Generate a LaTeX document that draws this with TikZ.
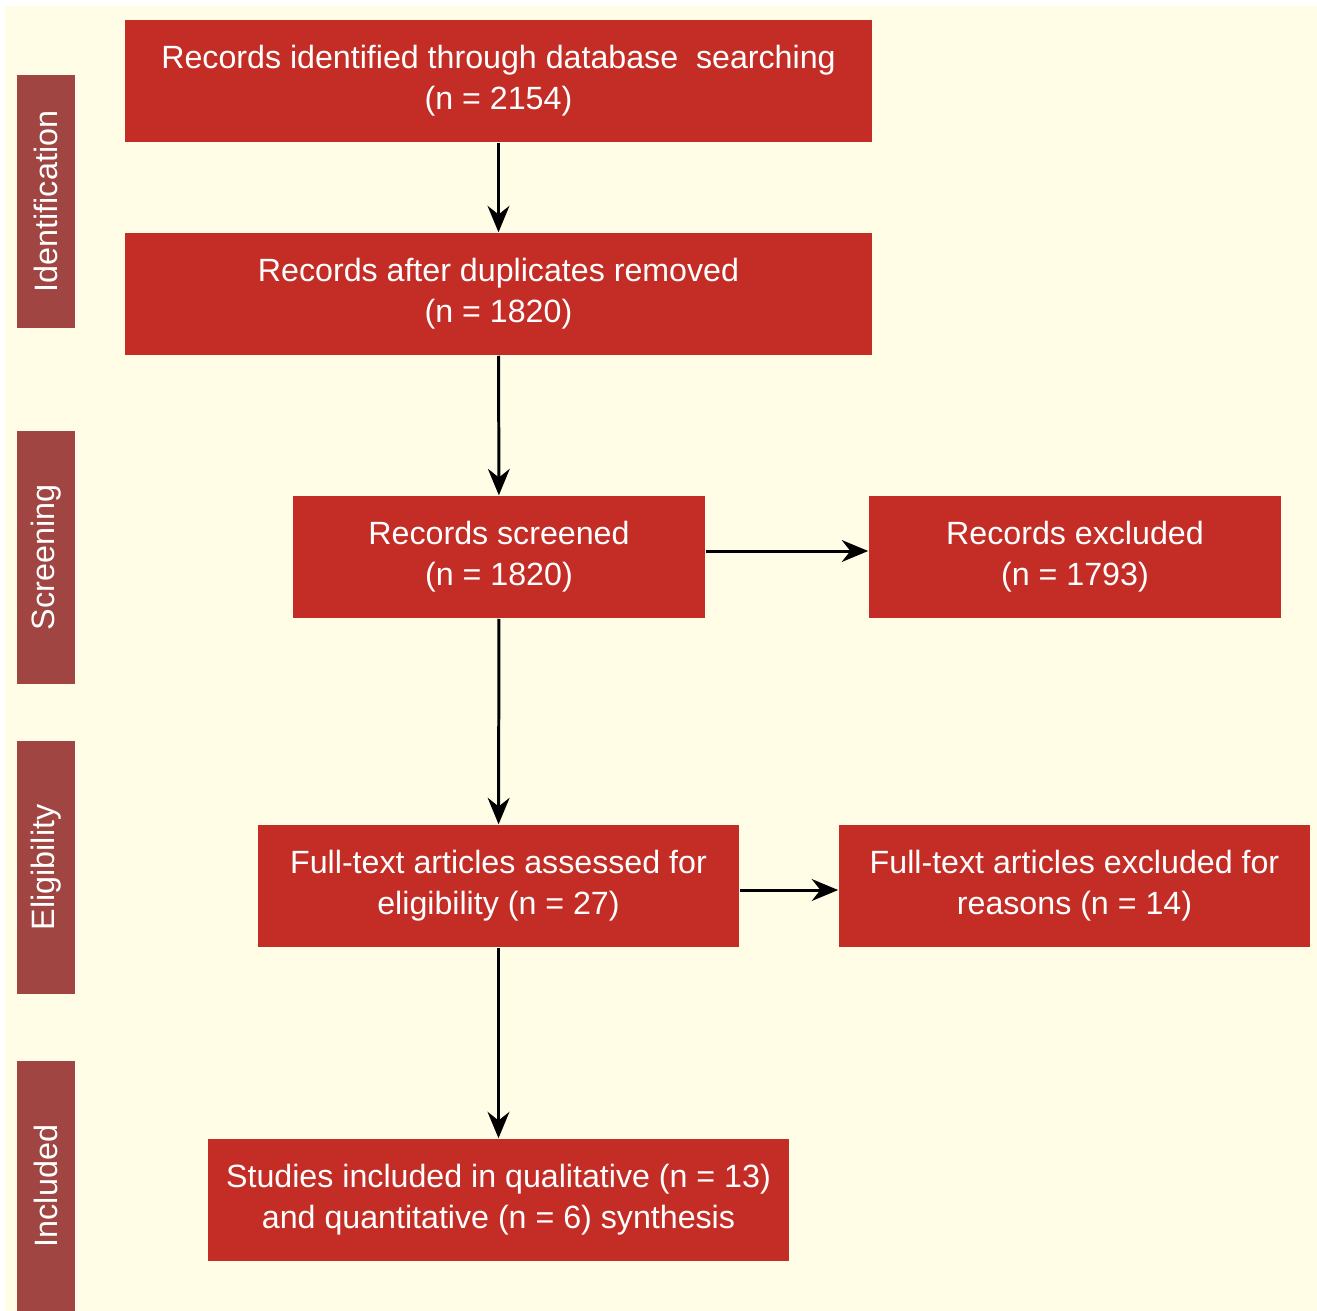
\documentclass[tikz,border=0pt]{standalone}
\usepackage{fontspec}
\setmainfont{Liberation Sans}
\usetikzlibrary{arrows.meta}
\definecolor{paper}{HTML}{FFFDE6}
\definecolor{boxred}{HTML}{C42D26}
\definecolor{barred}{HTML}{A04542}
\tikzset{
  stagebox/.style={fill=boxred, text=white, align=center, inner sep=0pt,
    minimum height=1.22cm, font=\fontsize{9.15}{11.7}\selectfont},
  phasebar/.style={fill=barred, text=white, inner sep=0pt, rotate=90,
    minimum height=0.58cm, font=\fontsize{9.2}{11}\selectfont},
  flow/.style={-{Stealth[length=7.5pt,width=6.2pt]}, line width=0.85pt}
}
\begin{document}
\begin{tikzpicture}[x=0.01cm, y=-0.01cm]
  \useasboundingbox (0,0) rectangle (1317,1311);
  \fill [paper] (5,6) rectangle (1317,1311);
  % phases on the left
  \node [phasebar, minimum width=2.53cm] (ident) at (46,201.5) {Identification};
  \node [phasebar, minimum width=2.53cm] (screen) at (46,557.5) {Screening};
  \node [phasebar, minimum width=2.53cm] (elig) at (46,867.5) {Eligibility};
  \node [phasebar, minimum width=2.50cm] (incl) at (46,1186) {Included};
  % boxes
  \node [stagebox, minimum width=7.47cm] (found) at (498.5,81)
    {Records identified through database\ \ searching\\(n = 2154)};
  \node [stagebox, minimum width=7.47cm] (dedup) at (498.5,294)
    {Records after duplicates removed\\(n = 1820)};
  \node [stagebox, minimum width=4.12cm] (scr) at (499,557)
    {Records screened\\(n = 1820)};
  \node [stagebox, minimum width=4.12cm] (scrout) at (1075,557)
    {Records excluded\\(n = 1793)};
  \node [stagebox, minimum width=4.81cm] (full) at (498.5,886)
    {Full-text articles assessed for\\eligibility (n = 27)};
  \node [stagebox, minimum width=4.71cm] (fullout) at (1074.5,886)
    {Full-text articles excluded for\\reasons (n = 14)};
  \node [stagebox, minimum width=5.81cm] (final) at (498.5,1200)
    {Studies included in qualitative (n = 13)\\and quantitative (n = 6) synthesis};
  % arrows
  \draw [flow] (found) -- (dedup);
  \draw [flow] (dedup) -- (scr);
  \draw [flow] (scr) -- (full);
  \draw [flow] (full) -- (final);
  \draw [flow] ([yshift=0.06cm]scr.east) -- ([yshift=0.06cm]scrout.west);
  \draw [flow] ([yshift=-0.04cm]full.east) -- ([yshift=-0.04cm]fullout.west);
\end{tikzpicture}
\end{document}
